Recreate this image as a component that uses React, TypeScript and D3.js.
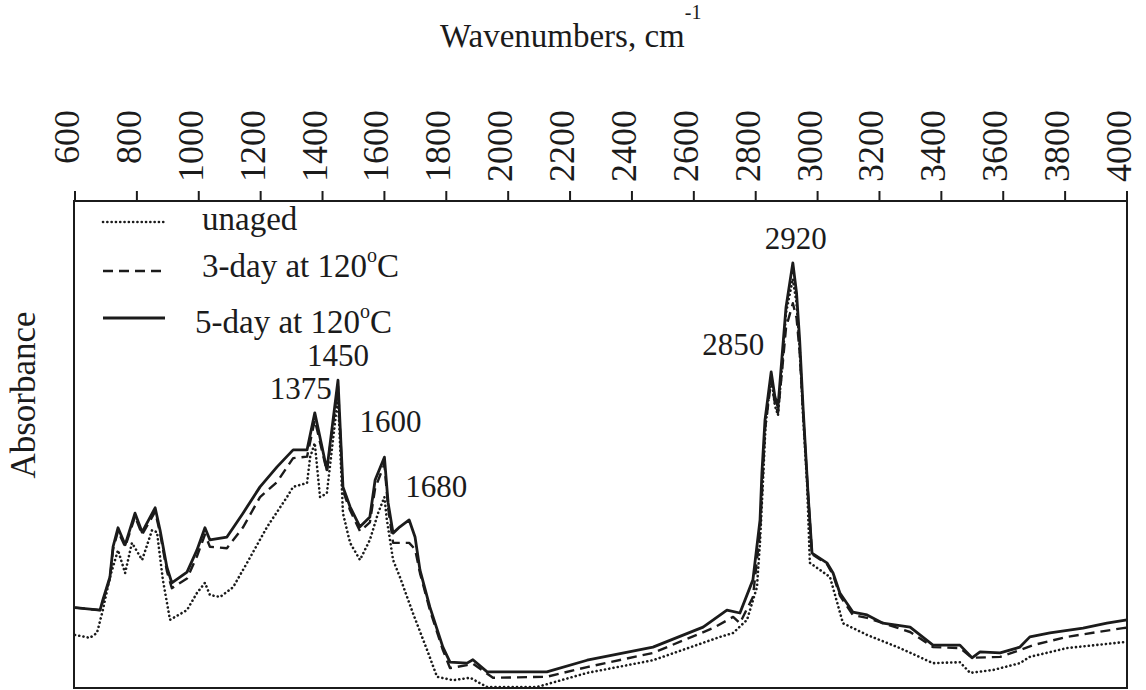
import React from "react";
import * as d3 from "d3";

// FTIR spectra of the rubber samples: [wavenumber (cm-1), absorbance (a.u.)]
const unaged: [number, number][] = [
  [600, 0.109], [648, 0.103], [671, 0.113], [690, 0.16], [713, 0.228], [739, 0.283],
  [762, 0.236], [784, 0.298], [817, 0.263], [849, 0.324], [865, 0.32], [884, 0.222],
  [907, 0.14], [962, 0.16], [994, 0.195], [1020, 0.216], [1036, 0.191], [1069, 0.187],
  [1111, 0.207], [1156, 0.257], [1221, 0.331], [1285, 0.392], [1305, 0.413], [1350, 0.421],
  [1360, 0.474], [1375, 0.503], [1392, 0.392], [1414, 0.4], [1450, 0.598], [1466, 0.359],
  [1489, 0.298], [1521, 0.263], [1553, 0.304], [1580, 0.36], [1600, 0.392], [1608, 0.345],
  [1628, 0.263], [1650, 0.228], [1692, 0.154], [1738, 0.078], [1770, 0.023], [1822, 0.016],
  [1877, 0.021], [1932, 0.002], [2093, 0.002], [2255, 0.031], [2468, 0.057], [2685, 0.105],
  [2727, 0.113], [2772, 0.14], [2804, 0.207], [2814, 0.3], [2824, 0.43], [2832, 0.54],
  [2850, 0.64], [2862, 0.58], [2872, 0.56], [2885, 0.66], [2898, 0.77], [2920, 0.84],
  [2932, 0.79], [2942, 0.7], [2953, 0.56], [2966, 0.42], [2975, 0.257], [3040, 0.228],
  [3082, 0.133], [3160, 0.109], [3266, 0.082], [3373, 0.051], [3460, 0.053], [3493, 0.031],
  [3567, 0.037], [3654, 0.051], [3686, 0.064], [3806, 0.082], [3987, 0.094], [4000, 0.094],
];

const aged3day: [number, number][] = [
  [600, 0.165], [681, 0.16], [690, 0.178], [713, 0.225], [723, 0.285], [739, 0.322],
  [762, 0.29], [794, 0.352], [817, 0.315], [859, 0.362], [875, 0.318], [897, 0.24],
  [913, 0.205], [962, 0.225], [994, 0.27], [1020, 0.315], [1036, 0.29], [1091, 0.287],
  [1143, 0.33], [1198, 0.392], [1253, 0.423], [1305, 0.472], [1350, 0.475], [1375, 0.55],
  [1414, 0.445], [1450, 0.62], [1466, 0.405], [1489, 0.365], [1521, 0.322], [1553, 0.34],
  [1570, 0.41], [1600, 0.46], [1612, 0.37], [1628, 0.298], [1650, 0.298], [1680, 0.298],
  [1699, 0.285], [1715, 0.236], [1747, 0.16], [1789, 0.078], [1812, 0.041], [1867, 0.047],
  [1886, 0.05], [1951, 0.021], [2125, 0.023], [2255, 0.043], [2468, 0.072], [2662, 0.123],
  [2727, 0.146], [2749, 0.133], [2791, 0.187], [2814, 0.32], [2824, 0.45], [2830, 0.53],
  [2850, 0.632], [2862, 0.585], [2872, 0.565], [2885, 0.65], [2898, 0.74], [2920, 0.79],
  [2932, 0.76], [2942, 0.69], [2953, 0.565], [2966, 0.43], [2982, 0.275], [3030, 0.255],
  [3050, 0.232], [3072, 0.19], [3114, 0.15], [3160, 0.144], [3299, 0.115], [3373, 0.084],
  [3460, 0.082], [3499, 0.062], [3590, 0.064], [3654, 0.078], [3696, 0.088], [3806, 0.105],
  [3987, 0.123], [4000, 0.124],
];

const aged5day: [number, number][] = [
  [600, 0.165], [681, 0.16], [690, 0.181], [713, 0.228], [723, 0.29], [739, 0.329],
  [762, 0.294], [794, 0.359], [817, 0.32], [859, 0.37], [875, 0.324], [897, 0.248],
  [913, 0.216], [962, 0.238], [994, 0.283], [1020, 0.329], [1036, 0.304], [1091, 0.31],
  [1143, 0.359], [1198, 0.413], [1253, 0.454], [1305, 0.489], [1350, 0.489], [1375, 0.565],
  [1414, 0.448], [1450, 0.632], [1466, 0.413], [1489, 0.372], [1521, 0.331], [1553, 0.351],
  [1570, 0.427], [1600, 0.474], [1612, 0.38], [1628, 0.318], [1650, 0.331], [1680, 0.345],
  [1699, 0.31], [1715, 0.242], [1747, 0.166], [1789, 0.084], [1812, 0.053], [1867, 0.051],
  [1886, 0.058], [1932, 0.033], [2125, 0.033], [2255, 0.057], [2468, 0.084], [2630, 0.125],
  [2707, 0.16], [2749, 0.154], [2791, 0.222], [2814, 0.345], [2820, 0.441], [2830, 0.55],
  [2850, 0.649], [2862, 0.598], [2872, 0.577], [2885, 0.68], [2898, 0.782], [2920, 0.873],
  [2932, 0.811], [2942, 0.715], [2953, 0.577], [2969, 0.4], [2982, 0.277], [3030, 0.257],
  [3050, 0.236], [3072, 0.195], [3114, 0.156], [3160, 0.15], [3211, 0.133], [3299, 0.125],
  [3331, 0.109], [3373, 0.088], [3460, 0.088], [3499, 0.062], [3525, 0.074], [3590, 0.072],
  [3654, 0.084], [3686, 0.105], [3751, 0.113], [3858, 0.123], [3935, 0.133], [4000, 0.14],
];

const xTicks = [600, 800, 1000, 1200, 1400, 1600, 1800, 2000, 2200, 2400, 2600, 2800, 3000, 3200, 3400, 3600, 3800, 4000];

const legendItems = [
  { label: "unaged", dash: "0.1 4.2", width: 2.6 },
  { label: "3-day at 120", dash: "10 6", width: 2.4 },
  { label: "5-day at 120", dash: "", width: 2.8 },
];

const peakLabels = [
  { text: "2920", wn: 2920 },
  { text: "2850", wn: 2850 },
  { text: "1450", wn: 1450 },
  { text: "1375", wn: 1375 },
  { text: "1600", wn: 1600 },
  { text: "1680", wn: 1680 },
];

const W = 1146;
const H = 690;
const left = 74;
const right = 1127;
const top = 201;
const bottom = 688;
const ink = "#1b1b1b";
const font = "'Liberation Serif', 'Times New Roman', Times, serif";

export default function App() {
  const x = d3.scaleLinear().domain([600, 4000]).range([left + 1, right]);
  const y = d3.scaleLinear().domain([0, 1]).range([bottom, top]);
  const line = d3
    .line<[number, number]>()
    .x((d) => x(d[0]))
    .y((d) => y(d[1]))
    .curve(d3.curveLinear);

  const series = [
    { data: unaged, style: legendItems[0] },
    { data: aged3day, style: legendItems[1] },
    { data: aged5day, style: legendItems[2] },
  ];

  // label placement: horizontal offset from band position, baseline y
  const peakPos: Record<string, [number, number]> = {
    "2920": [-28, 249],
    "2850": [-69, 355],
    "1450": [-31, 366],
    "1375": [-45, 399],
    "1600": [-25, 432],
    "1680": [-4, 497],
  };

  const legendLineY = [222, 271, 318];
  const legendTextY = [230, 277, 333];
  const legendTextX = [202, 202, 195];

  return (
    <svg
      width={W}
      height={H}
      style={{ position: "absolute", left: 0, top: 0, background: "#fff" }}
      fontFamily={font}
    >
      <rect x={0} y={0} width={W} height={H} fill="#fff" />

      {/* title */}
      <text x={440} y={47} fontSize={33} fill={ink}>
        Wavenumbers, cm
        <tspan fontSize={20} dy={-28}>-1</tspan>
      </text>

      {/* top axis ticks and rotated labels */}
      {xTicks.map((t) => (
        <g key={t}>
          <line x1={x(t)} x2={x(t)} y1={top - 10} y2={top} stroke={ink} strokeWidth={2} />
          <text
            transform={`translate(${x(t) + 4},110) rotate(-90)`}
            textAnchor="end"
            fontSize={36}
            fill={ink}
          >
            {t}
          </text>
        </g>
      ))}

      {/* frame */}
      <rect x={left} y={top} width={right - left} height={bottom - top} fill="none" stroke={ink} strokeWidth={2} />

      {/* y label */}
      <text
        transform={`translate(35,395) rotate(-90)`}
        textAnchor="middle"
        fontSize={35}
        fill={ink}
      >
        Absorbance
      </text>

      {/* spectra */}
      {series.map((s, i) => (
        <path
          key={i}
          d={line(s.data) || ""}
          fill="none"
          stroke={ink}
          strokeWidth={s.style.width}
          strokeDasharray={s.style.dash || undefined}
          strokeLinecap={s.style.dash.startsWith("0.1") ? "round" : "butt"}
          strokeLinejoin="round"
        />
      ))}

      {/* legend */}
      {legendItems.map((item, i) => (
        <g key={item.label}>
          <line
            x1={103}
            x2={165}
            y1={legendLineY[i]}
            y2={legendLineY[i]}
            stroke={ink}
            strokeWidth={item.width}
            strokeDasharray={item.dash || undefined}
            strokeLinecap={item.dash.startsWith("0.1") ? "round" : "butt"}
          />
          <text x={legendTextX[i]} y={legendTextY[i]} fontSize={33} fill={ink}>
            {item.label}
            {i > 0 && (
              <>
                <tspan fontSize={20} dy={-15}>o</tspan>
                <tspan dy={15}>C</tspan>
              </>
            )}
          </text>
        </g>
      ))}

      {/* band assignments */}
      {peakLabels.map((p) => {
        const [dx, py] = peakPos[p.text];
        return (
          <text key={p.text} x={x(p.wn) + dx} y={py} fontSize={31} fill={ink}>
            {p.text}
          </text>
        );
      })}
    </svg>
  );
}
